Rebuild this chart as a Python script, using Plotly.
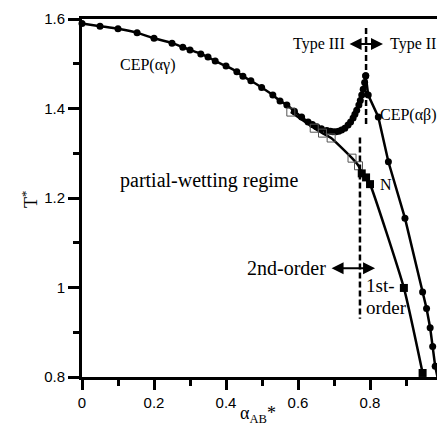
import plotly.graph_objects as go

# CEP(alpha-gamma) branch (circles), up to the cusp
cep_ag_x = [0.0, 0.05, 0.10, 0.153, 0.20, 0.25, 0.28, 0.30, 0.33, 0.35, 0.37, 0.40, 0.43, 0.447,
            0.469, 0.499, 0.53, 0.55, 0.569, 0.59, 0.61, 0.628, 0.64, 0.652, 0.665, 0.68, 0.69,
            0.697, 0.705, 0.713, 0.721, 0.73, 0.739, 0.746, 0.753, 0.758, 0.763, 0.769, 0.773,
            0.777, 0.781, 0.785, 0.788]
cep_ag_y = [1.590, 1.584, 1.578, 1.569, 1.557, 1.546, 1.537, 1.531, 1.522, 1.515, 1.506, 1.495,
            1.482, 1.472, 1.462, 1.447, 1.430, 1.417, 1.408, 1.394, 1.381, 1.370, 1.364, 1.359,
            1.355, 1.351, 1.349, 1.348, 1.348, 1.349, 1.352, 1.356, 1.363, 1.370, 1.379, 1.387,
            1.396, 1.408, 1.418, 1.430, 1.443, 1.458, 1.473]

# CEP(alpha-beta) branch (circles), from the cusp downwards
cep_ab_x = [0.788, 0.795, 0.823, 0.851, 0.897, 0.946, 0.957, 0.967, 0.974, 0.981, 0.990]
cep_ab_y = [1.473, 1.430, 1.381, 1.281, 1.155, 0.990, 0.953, 0.910, 0.868, 0.824, 0.790]

# Wetting transition line (squares): open = 2nd order, filled = 1st order
open_x = [0.58, 0.645, 0.668, 0.692, 0.75, 0.768]
open_y = [1.392, 1.356, 1.345, 1.334, 1.289, 1.272]
filled_x = [0.777, 0.789, 0.80, 0.894, 0.946]
filled_y = [1.255, 1.246, 1.231, 0.999, 0.809]

# dashed guide lines
dash_upper_x = [0.789, 0.789]
dash_upper_y = [1.58, 1.36]
dash_lower_x = [0.772, 0.772]
dash_lower_y = [1.335, 0.93]

x_ticks = [0, 0.2, 0.4, 0.6, 0.8]
y_ticks = [0.8, 1.0, 1.2, 1.4, 1.6]

serif = "Liberation Serif"
sans = "Liberation Sans"

fig = go.Figure()

fig.add_trace(go.Scatter(x=cep_ag_x, y=cep_ag_y, mode="lines+markers", line=dict(color="black", width=2.5, shape="spline", smoothing=0.6),
                         marker=dict(symbol="circle", size=7, color="black"), cliponaxis=False, showlegend=False))
fig.add_trace(go.Scatter(x=cep_ab_x, y=cep_ab_y, mode="lines+markers", line=dict(color="black", width=2.5),
                         marker=dict(symbol="circle", size=7, color="black"), showlegend=False))
fig.add_trace(go.Scatter(x=open_x + filled_x, y=open_y + filled_y, mode="lines",
                         line=dict(color="black", width=2.5, shape="spline", smoothing=0.5), showlegend=False))
fig.add_trace(go.Scatter(x=open_x, y=open_y, mode="markers",
                         marker=dict(symbol="square-open", size=8, color="#555555", line=dict(width=1)), showlegend=False))
fig.add_trace(go.Scatter(x=filled_x, y=filled_y, mode="markers",
                         marker=dict(symbol="square", size=8, color="black"), cliponaxis=False, showlegend=False))
for dx, dy in [(dash_upper_x, dash_upper_y), (dash_lower_x, dash_lower_y)]:
    fig.add_trace(go.Scatter(x=dx, y=dy, mode="lines", line=dict(color="black", width=2.5, dash="6px,3px"), showlegend=False))

anns = []
def txt(x, y, s, size, anchor="left"):
    anns.append(dict(x=x, y=y, xref="x", yref="y", text=s, showarrow=False, xanchor=anchor, yanchor="middle",
                     font=dict(family=serif, size=size, color="black")))

def arrow(x0, x1, y):
    anns.append(dict(x=x1, y=y, ax=x0, ay=y, xref="x", yref="y", axref="x", ayref="y", text="", showarrow=True,
                     arrowhead=2, arrowside="end+start", arrowsize=1.2, arrowwidth=2, arrowcolor="black",
                     standoff=0, startstandoff=0))

txt(0.736, 1.544, "Type III", 16, "right")
txt(0.85, 1.544, "Type II", 16, "left")
arrow(0.739, 0.836, 1.544)
txt(0.10, 1.497, "CEP(αγ)", 16)
txt(0.822, 1.385, "CEP(αβ)", 16)
txt(0.10, 1.24, "partial-wetting regime", 20)
txt(0.822, 1.231, "N", 16)
txt(0.683, 1.043, "2nd-order", 20, "right")
arrow(0.689, 0.814, 1.043)
txt(0.782, 1.005, "1st-", 19)
txt(0.782, 0.956, "order", 19)

anns.append(dict(x=-0.185, y=0.497, xref="paper", yref="paper", text="T<sup>*</sup>", showarrow=False, textangle=-90,
                 font=dict(family=serif, size=18, color="black")))
anns.append(dict(x=0.496, y=-0.142, xref="paper", yref="paper", text="α<sub>AB</sub>*", showarrow=False,
                 font=dict(family=serif, size=18, color="black")))

fig.update_layout(
    width=437, height=439, margin=dict(l=82, r=0, t=19, b=62),
    plot_bgcolor="white", paper_bgcolor="white", annotations=anns,
    xaxis=dict(range=[0, 0.986], tickvals=x_ticks, ticktext=["0", "0.2", "0.4", "0.6", "0.8"],
               showgrid=False, zeroline=False, showline=True, linecolor="black", linewidth=3, mirror=True,
               ticks="outside", ticklen=10, tickwidth=3, tickcolor="black",
               tickfont=dict(family=sans, size=15, color="black"),
               minor=dict(dtick=0.1, tick0=0, ticks="outside", ticklen=6, tickwidth=3, tickcolor="black", showgrid=False)),
    yaxis=dict(range=[0.8, 1.6], tickvals=y_ticks, ticktext=["0.8", "1", "1.2", "1.4", "1.6"],
               showgrid=False, zeroline=False, showline=True, linecolor="black", linewidth=3, mirror=False,
               ticks="outside", ticklen=11, tickwidth=3, tickcolor="black",
               tickfont=dict(family=sans, size=15, color="black"),
               minor=dict(dtick=0.1, tick0=0.8, ticks="outside", ticklen=6, tickwidth=3, tickcolor="black", showgrid=False)),
)

fig.write_html("out.html")
